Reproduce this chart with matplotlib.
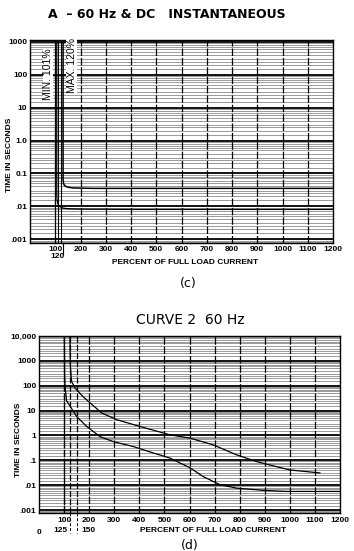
import numpy as np
import matplotlib
matplotlib.use("Agg")
import matplotlib.pyplot as plt
from matplotlib.ticker import FixedLocator, NullFormatter

plt.rcParams['font.family'] = ['Liberation Sans', 'DejaVu Sans']

# ---- chart (c): 60 Hz & DC instantaneous ----
c_title = "A  \u2013 60 Hz & DC   INSTANTANEOUS"
c_yticks = [1000, 100, 10, 1, 0.1, 0.01, 0.001]
c_ylabels = ["1000", "100", "10", "1.0", "0.1", ".01", ".001"]
c_xticks = [100, 200, 300, 400, 500, 600, 700, 800, 900, 1000, 1100, 1200]
c_heavy = [100, 112, 122]
c_min_x = [106, 106, 107, 110, 117, 130, 150, 200, 400, 800, 1200]
c_min_y = [1150, 0.025, 0.016, 0.012, 0.0098, 0.0088, 0.0084, 0.0082, 0.008, 0.008, 0.008]
c_max_x = [131, 131, 133, 139, 150, 170, 250, 400, 800, 1200]
c_max_y = [1150, 0.065, 0.048, 0.041, 0.038, 0.036, 0.035, 0.035, 0.035, 0.035]

# ---- chart (d): curve 2 60 Hz ----
d_title = "CURVE 2  60 Hz"
d_yticks = [10000, 1000, 100, 10, 1, 0.1, 0.01, 0.001]
d_ylabels = ["10,000", "1000", "100", "10", "1", ".1", ".01", ".001"]
d_xticks = c_xticks
d_marks = [100, 125, 150]
d_up_x = [123, 125, 130, 143, 176, 230, 250, 310, 402, 522, 602, 694, 788, 867, 920, 1000, 1120]
d_up_y = [10000, 600, 150, 82, 36, 12, 8, 4.3, 2.3, 1.06, 0.78, 0.42, 0.166, 0.089, 0.065, 0.041, 0.031]
d_lo_x = [101, 102, 104, 110, 150, 190, 243, 295, 375, 454, 522, 602, 655, 721, 788, 892, 987, 1200]
d_lo_y = [10000, 300, 90, 25, 5.8, 2.3, 0.9, 0.57, 0.36, 0.2, 0.123, 0.05, 0.022, 0.0105, 0.0076, 0.0062, 0.0056, 0.0056]

W, H = 354, 551
fig = plt.figure(figsize=(W / 100, H / 100), dpi=100)
fig.patch.set_facecolor('white')

def px_axes(l, t, r, b):
    return fig.add_axes([l / W, 1 - b / H, (r - l) / W, (b - t) / H])

def graph_paper(ax, ylo, yhi, yticks, ylabels, xticks):
    ax.set_yscale('log')
    ax.set_xlim(0, 1200)
    ax.set_ylim(ylo, yhi)
    lo, hi = int(np.floor(np.log10(ylo))), int(np.ceil(np.log10(yhi)))
    for e in range(lo, hi):
        for m in [1.5, 2, 2.5, 3, 4, 5, 6, 7, 8, 9]:
            v = m * 10.0 ** e
            if ylo < v < yhi:
                ax.axhline(v, color='0.45', lw=0.5, zorder=1)
        ax.axhline(10.0 ** e, color='black', lw=1.3, zorder=2)
    for x in range(100, 1200, 100):
        ax.axvline(x, color='black', lw=0.9, ls=(0, (6, 1.5)), zorder=2)
    ax.yaxis.set_major_locator(FixedLocator(yticks))
    ax.set_yticklabels(ylabels)
    ax.yaxis.set_minor_formatter(NullFormatter())
    ax.yaxis.set_minor_locator(FixedLocator([]))
    ax.set_xticks(xticks)
    ax.tick_params(length=0, labelsize=6, pad=2)
    for lab in ax.get_xticklabels() + ax.get_yticklabels():
        lab.set_fontweight('bold')
    for s in ax.spines.values():
        s.set_linewidth(1.0)

# top chart
ax1 = px_axes(30, 40, 333, 243)
graph_paper(ax1, 0.00076, 1150, c_yticks, c_ylabels, c_xticks)
for x in c_heavy:
    ax1.axvline(x, color='black', lw=0.8, zorder=3)
ax1.plot(c_min_x, c_min_y, color='black', lw=0.9, zorder=4)
ax1.plot(c_max_x, c_max_y, color='black', lw=1.1, zorder=4)
ax1.text(71, 105, "MIN. 101%", rotation=90, ha='center', va='center', fontsize=7.5,
         bbox=dict(facecolor='white', edgecolor='none', pad=0.3), zorder=5)
ax1.text(166, 186, "MAX. 120%", rotation=90, ha='center', va='center', fontsize=7.5,
         bbox=dict(facecolor='white', edgecolor='none', pad=0.3), zorder=5)
ax1.plot([131, 131], [0.00076, 0.00035], color='black', lw=0.8, clip_on=False)
fig.text(58 / W, 1 - 256 / H, "120", ha='center', va='center', fontsize=6, fontweight='bold')
fig.text(185 / W, 1 - 263 / H, "PERCENT OF FULL LOAD CURRENT", ha='center', va='center',
         fontsize=6, fontweight='bold')
fig.text(10 / W, 1 - 155 / H, "TIME IN SECONDS", rotation=90, ha='center', va='center',
         fontsize=6, fontweight='bold')
fig.text(167 / W, 1 - 15 / H, c_title, ha='center', va='center', fontsize=9, fontweight='bold',
         family=['DejaVu Sans'])
fig.text(188 / W, 1 - 283 / H, "(c)", ha='center', va='center', fontsize=9, family=['DejaVu Sans'])

# bottom chart
ax2 = px_axes(39, 336, 340, 513)
graph_paper(ax2, 0.00076, 10000, d_yticks, d_ylabels, d_xticks)
for x in d_marks:
    ax2.axvline(x, color='black', lw=0.9, ls=(0, (5, 1.5)), zorder=3)
for x in d_marks[1:]:
    ax2.plot([x, x], [0.00076, 0.00012], color='black', lw=0.7, ls=(0, (3, 2)), clip_on=False)
ax2.plot(d_up_x, d_up_y, color='black', lw=0.9, zorder=4)
ax2.plot(d_lo_x, d_lo_y, color='black', lw=0.9, zorder=4)
ax2.tick_params(axis='x', pad=3)
fig.text(39 / W, 1 - 532 / H, "0", ha='center', va='center', fontsize=6, fontweight='bold')
fig.text(60 / W, 1 - 531 / H, "125", ha='center', va='center', fontsize=6, fontweight='bold')
fig.text(88 / W, 1 - 531 / H, "150", ha='center', va='center', fontsize=6, fontweight='bold')
fig.text(213 / W, 1 - 530 / H, "PERCENT OF FULL LOAD CURRENT", ha='center', va='center',
         fontsize=6, fontweight='bold')
fig.text(19 / W, 1 - 440 / H, "TIME IN SECONDS", rotation=90, ha='center', va='center',
         fontsize=6, fontweight='bold')
fig.text(190 / W, 1 - 320 / H, d_title, ha='center', va='center', fontsize=10,
         family=['DejaVu Sans'])
fig.text(190 / W, 1 - 545 / H, "(d)", ha='center', va='center', fontsize=9, family=['DejaVu Sans'])

fig.savefig("out.png", dpi=100, facecolor='white')
